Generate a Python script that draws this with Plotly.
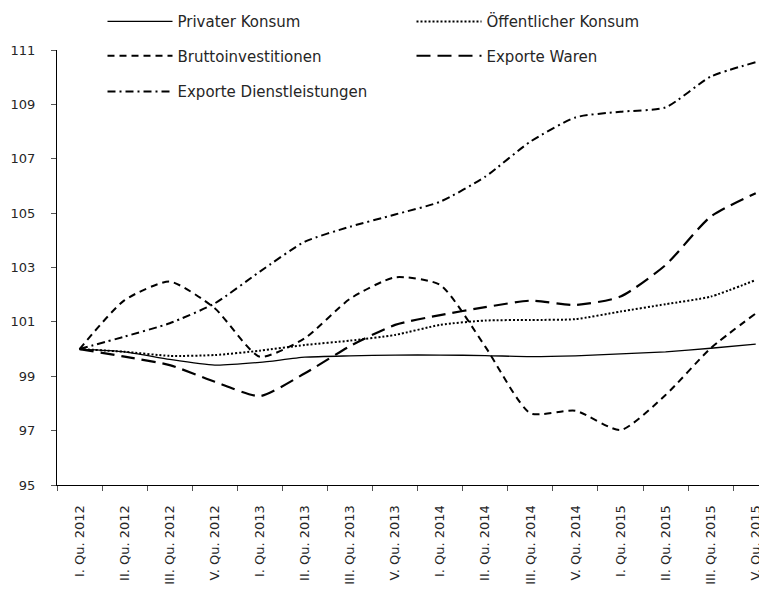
import plotly.graph_objects as go

quarters = ["I. Qu. 2012", "II. Qu. 2012", "III. Qu. 2012", "V. Qu. 2012",
            "I. Qu. 2013", "II. Qu. 2013", "III. Qu. 2013", "V. Qu. 2013",
            "I. Qu. 2014", "II. Qu. 2014", "III. Qu. 2014", "V. Qu. 2014",
            "I. Qu. 2015", "II. Qu. 2015", "III. Qu. 2015", "V. Qu. 2015"]

privater_konsum = [100.0, 99.9, 99.62, 99.41, 99.51, 99.70, 99.75, 99.78,
                   99.78, 99.76, 99.72, 99.75, 99.82, 99.90, 100.03, 100.18]
oeffentlicher_konsum = [100.0, 99.9, 99.75, 99.78, 99.94, 100.15, 100.31, 100.52,
                        100.89, 101.05, 101.07, 101.10, 101.38, 101.65, 101.93, 102.54]
bruttoinvestitionen = [100.0, 101.8, 102.48, 101.5, 99.72, 100.4, 101.85, 102.64,
                       102.36, 100.09, 97.64, 97.73, 97.02, 98.31, 100.03, 101.31]
exporte_waren = [100.0, 99.72, 99.41, 98.8, 98.27, 99.11, 100.11, 100.89,
                 101.25, 101.54, 101.78, 101.62, 101.93, 103.09, 104.87, 105.73]
exporte_dienst = [100.0, 100.46, 100.95, 101.68, 102.85, 103.95, 104.5, 104.95,
                  105.42, 106.34, 107.63, 108.52, 108.73, 108.89, 110.02, 110.55]

y_ticks = [95, 97, 99, 101, 103, 105, 107, 109, 111]

FONT = "DejaVu Sans"
TXT = "#262626"
# page body has an 8px margin, so the figure is sized to fit the 767x594 window
W, H = 759, 586

series = [
    ("Privater Konsum", privater_konsum, "solid", 1.3, "legend"),
    ("Öffentlicher Konsum", oeffentlicher_konsum, "2px,2px", 2, "legend2"),
    ("Bruttoinvestitionen", bruttoinvestitionen, "7px,5px", 2, "legend3"),
    ("Exporte Waren", exporte_waren, "14px,7px", 2.2, "legend4"),
    ("Exporte Dienstleistungen", exporte_dienst, "8px,4px,2px,4px", 2, "legend5"),
]

fig = go.Figure()
for name, vals, dash, w, lg in series:
    fig.add_trace(go.Scatter(
        x=quarters, y=vals, name=name, mode="lines",
        line=dict(color="black", width=w, dash=dash, shape="spline", smoothing=0.6),
        legend=lg, showlegend=True,
    ))

def leg(px_x, px_y):
    return dict(
        xref="container", yref="container",
        x=px_x / W, y=1 - px_y / H,
        xanchor="left", yanchor="middle",
        bgcolor="rgba(0,0,0,0)", borderwidth=0,
        font=dict(family=FONT, size=15, color=TXT),
        itemwidth=65, orientation="h", visible=True,
    )

fig.update_layout(
    width=W, height=H,
    margin=dict(l=49, r=0, t=42, b=109, autoexpand=False),
    paper_bgcolor="white", plot_bgcolor="white",
    font=dict(family=FONT, size=14, color=TXT),
    showlegend=True,
    legend=leg(94.5, 13.7),
    legend2=leg(403.5, 13.7),
    legend3=leg(94.5, 48),
    legend4=leg(403.5, 48),
    legend5=leg(94.5, 83.7),
    xaxis=dict(
        type="category", range=[-0.5, 15.25], automargin=False,
        showline=True, linecolor="black", linewidth=1,
        ticks="outside", ticklen=5, tickcolor="#555", tickson="boundaries",
        tickangle=-90, showgrid=False, zeroline=False,
        tickfont=dict(family=FONT, size=13, color=TXT),
        ticklabelstandoff=14,
    ),
    yaxis=dict(
        range=[95, 111], tickvals=y_ticks, automargin=False,
        showline=True, linecolor="black", linewidth=1,
        ticks="outside", ticklen=5, tickcolor="#555",
        showgrid=False, zeroline=False,
        tickfont=dict(family=FONT, size=13, color=TXT),
        ticklabelstandoff=13,
    ),
)

fig.write_html("out.html")
